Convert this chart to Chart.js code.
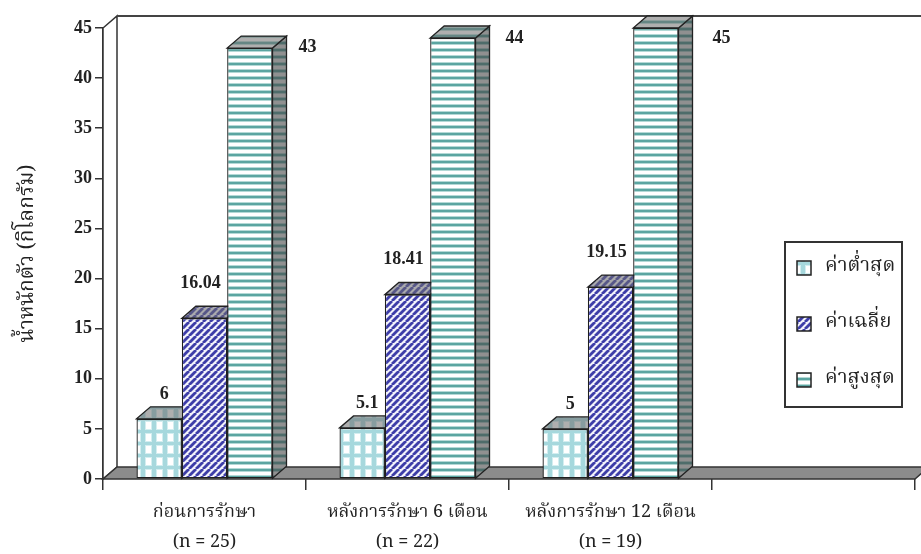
<!DOCTYPE html>
<html>
<head>
<meta charset="utf-8">
<script src="https://cdn.jsdelivr.net/npm/chart.js@4.4.1/dist/chart.umd.min.js"></script>
<style>
body { margin: 0; background: #fff; }
</style>
</head>
<body>
<canvas id="weightChart" width="921" height="554"></canvas>
<script>
// data
const categories = ['ก่อนการรักษา', 'หลังการรักษา 6 เดือน', 'หลังการรักษา 12 เดือน', ''];
const sampleSizes = ['(n = 25)', '(n = 22)', '(n = 19)', ''];
const seriesNames = ['ค่าต่ำสุด', 'ค่าเฉลี่ย', 'ค่าสูงสุด'];
const minWeight = [6, 5.1, 5, null];
const meanWeight = [16.04, 18.41, 19.15, null];
const maxWeight = [43, 44, 45, null];
const yMax = 45;
const yStep = 5;

const THAI = "Norasi, 'Noto Serif Thai', 'Noto Sans Thai', Loma, 'Noto Sans', sans-serif";
const NUM = "'Liberation Serif', 'DejaVu Serif', serif";
const DX = 14, DY = -12;

function makePattern(w, h, draw) {
    var c = document.createElement('canvas');
    c.width = w;
    c.height = h;
    draw(c.getContext('2d'));
    return c.getContext('2d').createPattern(c, 'repeat');
}

var checkFill = makePattern(11, 12, function(g) {
    g.fillStyle = '#a6d8dd';
    g.fillRect(0, 0, 11, 12);
    g.fillStyle = '#d3eef0';
    g.fillRect(2, 1, 7, 9);
    g.fillStyle = '#ffffff';
    g.fillRect(3, 2, 5, 7);
});
var stripeFill = makePattern(7, 7, function(g) {
    g.fillStyle = '#f2f2fb';
    g.fillRect(0, 0, 7, 7);
    g.strokeStyle = '#3d3da8';
    g.lineWidth = 2.8;
    for (let x = -7; x <= 7; x += 7) {
        g.beginPath();
        g.moveTo(x, 7);
        g.lineTo(x + 7, 0);
        g.stroke();
    }
});
var lineFill = makePattern(4, 7, function(g) {
    g.fillStyle = '#ffffff';
    g.fillRect(0, 0, 4, 7);
    g.fillStyle = '#b3d9d6';
    g.fillRect(0, 6, 4, 1);
    g.fillRect(0, 2, 4, 1);
    g.fillStyle = '#5ba5a1';
    g.fillRect(0, 0, 4, 2);
});
var fills = [checkFill, stripeFill, lineFill];

function poly(ctx, pts, fill, shade) {
    ctx.beginPath();
    ctx.moveTo(pts[0][0], pts[0][1]);
    for (let i = 1; i < pts.length; i++) ctx.lineTo(pts[i][0], pts[i][1]);
    ctx.closePath();
    if (fill) {
        ctx.fillStyle = fill;
        ctx.fill();
    }
    if (shade) {
        ctx.fillStyle = shade;
        ctx.fill();
    }
    ctx.stroke();
}

// floor, walls and the top / side faces of the bars
var boxes3d = {
    id: 'boxes3d',
    beforeDatasetsDraw: function(chart) {
        var ctx = chart.ctx;
        var a = chart.chartArea;
        ctx.save();
        ctx.strokeStyle = '#333';
        ctx.lineWidth = 1.5;
        poly(ctx, [[a.left, a.bottom], [a.left, a.top], [a.left + DX, a.top + DY], [a.left + DX, a.bottom + DY]], '#ffffff');
        ctx.strokeStyle = '#444';
        ctx.lineWidth = 2;
        ctx.beginPath();
        ctx.moveTo(a.left + DX, a.top + DY);
        ctx.lineTo(chart.width, a.top + DY);
        ctx.stroke();
        ctx.strokeStyle = '#333';
        ctx.lineWidth = 1.5;
        poly(ctx, [[a.left, a.bottom], [a.right, a.bottom], [a.right + DX, a.bottom + DY], [a.left + DX, a.bottom + DY]], '#8c8c8c');
        ctx.lineWidth = 1.3;
        ctx.strokeStyle = '#222';
        chart.data.datasets.forEach(function(ds, i) {
            chart.getDatasetMeta(i).data.forEach(function(bar, j) {
                if (ds.data[j] == null) return;
                var x0 = bar.x - bar.width / 2, x1 = bar.x + bar.width / 2;
                poly(ctx, [[x1, bar.y], [x1, bar.base], [x1 + DX, bar.base + DY], [x1 + DX, bar.y + DY]], fills[i], 'rgba(70,70,70,0.6)');
                poly(ctx, [[x0, bar.y], [x1, bar.y], [x1 + DX, bar.y + DY], [x0 + DX, bar.y + DY]], fills[i], 'rgba(110,110,110,0.55)');
            });
        });
        ctx.restore();
    },
    afterDatasetsDraw: function(chart) {
        var ctx = chart.ctx;
        ctx.save();
        ctx.fillStyle = '#222';
        ctx.font = 'bold 18px ' + NUM;
        ctx.textBaseline = 'middle';
        chart.data.datasets.forEach(function(ds, i) {
            chart.getDatasetMeta(i).data.forEach(function(bar, j) {
                var v = ds.data[j];
                if (v == null) return;
                if (i === 2) {
                    ctx.textAlign = 'left';
                    ctx.fillText(String(v), bar.x + bar.width / 2 + DX + 12 + j * 4, Math.max(bar.y - 1, 38));
                } else if (i === 1) {
                    ctx.textAlign = 'center';
                    ctx.fillText(String(v), bar.x - 4, bar.y - 35);
                } else {
                    ctx.textAlign = 'center';
                    ctx.fillText(String(v), bar.x + 5, bar.y - 25);
                }
            });
        });
        ctx.restore();
    },
    afterDraw: function(chart) {
        // legend box
        var ctx = chart.ctx;
        ctx.save();
        ctx.fillStyle = '#fff';
        ctx.strokeStyle = '#333';
        ctx.lineWidth = 2;
        ctx.fillRect(785, 242, 117, 165);
        ctx.strokeRect(785, 242, 117, 165);
        ctx.font = '20px ' + THAI;
        ctx.textBaseline = 'middle';
        ctx.textAlign = 'left';
        ctx.lineWidth = 1.5;
        seriesNames.forEach(function(name, i) {
            var cy = 268 + i * 56;
            ctx.fillStyle = fills[i];
            ctx.fillRect(797, cy - 7, 14, 14);
            ctx.strokeStyle = '#222';
            ctx.strokeRect(797, cy - 7, 14, 14);
            ctx.fillStyle = '#222';
            ctx.fillText(name, 825, cy);
        });
        ctx.restore();
    }
};

var labels = categories.map(function(c, i) {
    return c ? [c, sampleSizes[i]] : '';
});
var seriesData = [minWeight, meanWeight, maxWeight];

var chart = new Chart(document.getElementById('weightChart'), {
    type: 'bar',
    data: {
        labels: labels,
        datasets: seriesNames.map(function(name, i) {
            return {
                label: name,
                data: seriesData[i],
                backgroundColor: fills[i],
                borderColor: '#1e1e1e',
                borderWidth: 1.3,
                borderSkipped: false,
                barPercentage: 1,
                categoryPercentage: 0.67,
                clip: false
            };
        })
    },
    options: {
        responsive: false,
        animation: false,
        layout: { padding: { top: 28, right: 6, left: 0, bottom: 0 } },
        plugins: {
            legend: { display: false },
            tooltip: { enabled: false }
        },
        scales: {
            x: {
                grid: { drawOnChartArea: false, drawTicks: true, tickLength: 11, color: '#333', lineWidth: 1.5, offset: true },
                border: { display: false },
                ticks: {
                    padding: 9,
                    color: '#222',
                    autoSkip: false,
                    maxRotation: 0,
                    font: { family: THAI, size: 18, lineHeight: 1.65 }
                },
                afterFit: function(s) { s.height = 75; }
            },
            y: {
                min: 0,
                max: yMax,
                ticks: {
                    stepSize: yStep,
                    padding: 3,
                    color: '#222',
                    font: { family: NUM, weight: 'bold', size: 18 }
                },
                grid: { drawOnChartArea: false, tickLength: 8, color: '#333', lineWidth: 1.5 },
                border: { display: true, color: '#333', width: 1.5 },
                title: {
                    display: true,
                    text: 'น้ำหนักตัว (กิโลกรัม)',
                    color: '#222',
                    font: { family: THAI, size: 21 },
                    padding: { top: 17, bottom: 0 }
                },
                afterFit: function(s) { s.width = 103; }
            }
        }
    },
    plugins: [boxes3d]
});
</script>
</body>
</html>
